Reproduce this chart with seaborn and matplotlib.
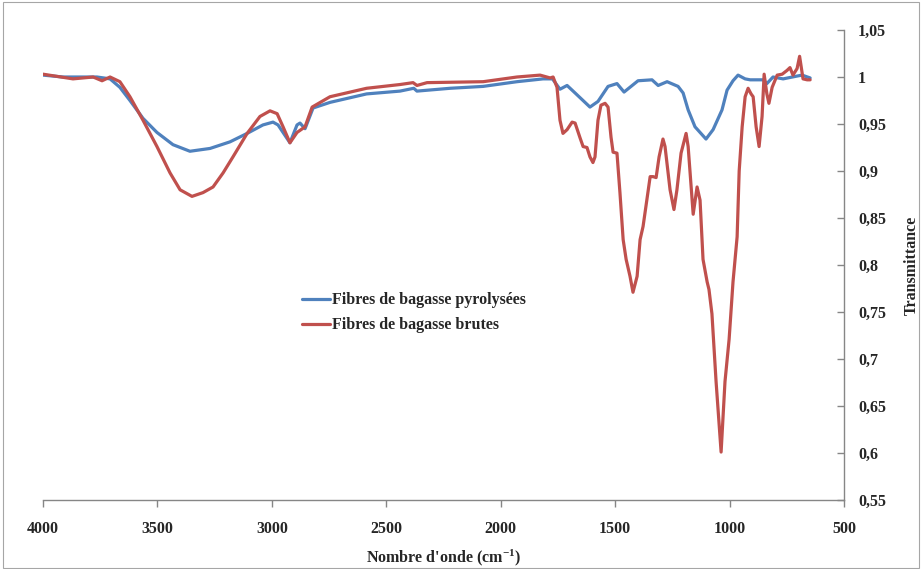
import seaborn as sns
import matplotlib.pyplot as plt
import pandas as pd
from matplotlib.patches import Rectangle
from matplotlib.ticker import FuncFormatter

# --- Data ---
wn_pyro = [4000, 3913, 3764, 3707, 3664, 3620, 3563, 3502, 3432, 3358, 3270, 3183,
           3108, 3039, 2995, 2973, 2921, 2890, 2877, 2855, 2820, 2746, 2586, 2440,
           2380, 2366, 2221, 2077, 1929, 1815, 1774, 1741, 1710, 1675, 1610, 1575,
           1531, 1492, 1461, 1400, 1339, 1312, 1273, 1225, 1203, 1181, 1151, 1103,
           1072, 1033, 1011, 985, 963, 932, 910, 853, 837, 810, 766, 705, 683, 648]
t_pyro = [1.002, 1.0, 1.0, 0.998, 0.989, 0.975, 0.956, 0.941, 0.928, 0.921, 0.924, 0.931,
          0.94, 0.949, 0.952, 0.949, 0.93, 0.949, 0.951, 0.945, 0.967, 0.973, 0.982, 0.985,
          0.988, 0.985, 0.988, 0.99, 0.995, 0.998, 0.998, 0.987, 0.991, 0.983, 0.968, 0.974,
          0.99, 0.993, 0.984, 0.996, 0.997, 0.991, 0.995, 0.99, 0.983, 0.965, 0.947, 0.934,
          0.944, 0.965, 0.986, 0.996, 1.002, 0.998, 0.997, 0.997, 0.993, 1.0, 0.998, 1.001,
          1.002, 0.999]

wn_brut = [4000, 3869, 3781, 3742, 3707, 3664, 3620, 3563, 3502, 3445, 3401, 3349,
           3301, 3257, 3213, 3170, 3108, 3052, 3008, 2977, 2951, 2921, 2890, 2855,
           2824, 2746, 2586, 2440, 2383, 2366, 2322, 2077, 1929, 1828, 1784, 1771,
           1754, 1741, 1728, 1710, 1688, 1675, 1653, 1640, 1623, 1610, 1597, 1588,
           1575, 1562, 1544, 1531, 1518, 1509, 1492, 1479, 1465, 1452, 1435, 1422,
           1404, 1391, 1378, 1361, 1347, 1334, 1321, 1308, 1291, 1282, 1260, 1243,
           1230, 1212, 1190, 1181, 1159, 1142, 1129, 1116, 1098, 1090, 1077, 1059,
           1037, 1020, 1002, 985, 967, 958, 945, 932, 919, 906, 897, 884, 871, 858,
           849, 837, 828, 814, 792, 770, 749, 736, 723, 705, 694, 679, 661, 648]
t_brut = [1.003, 0.998, 1.0, 0.996, 1.0, 0.995, 0.979, 0.954, 0.926, 0.898, 0.88, 0.873,
          0.877, 0.883, 0.898, 0.915, 0.94, 0.958, 0.964, 0.961, 0.947, 0.93, 0.941, 0.947,
          0.968, 0.979, 0.988, 0.992, 0.994, 0.991, 0.994, 0.995, 1.0, 1.002, 0.999, 1.0,
          0.989, 0.954, 0.94, 0.944, 0.952, 0.951, 0.935, 0.926, 0.925, 0.915, 0.909, 0.915,
          0.954, 0.97, 0.972, 0.968, 0.936, 0.92, 0.919, 0.877, 0.827, 0.806, 0.788, 0.771,
          0.788, 0.827, 0.841, 0.87, 0.894, 0.894, 0.893, 0.915, 0.934, 0.926, 0.88, 0.859,
          0.88, 0.919, 0.94, 0.926, 0.854, 0.883, 0.869, 0.806, 0.782, 0.774, 0.748, 0.676,
          0.601, 0.676, 0.721, 0.782, 0.83, 0.9, 0.947, 0.979, 0.988, 0.982, 0.979, 0.947,
          0.926, 0.958, 1.003, 0.982, 0.972, 0.989, 1.002, 1.003, 1.007, 1.01, 1.002, 1.009,
          1.022, 0.998, 0.997, 0.997]

labels = ['Fibres de bagasse pyrolysées', 'Fibres de bagasse brutes']
colors = ['#4F81BD', '#C0504D']
y_ticks = [0.55, 0.6, 0.65, 0.7, 0.75, 0.8, 0.85, 0.9, 0.95, 1.0, 1.05]
x_ticks = [4000, 3500, 3000, 2500, 2000, 1500, 1000, 500]

# --- Style ---
sns.set_theme(style='white')
plt.rcParams.update({
    'font.family': ['Liberation Serif', 'DejaVu Serif'],
    'font.weight': 'bold',
    'mathtext.fontset': 'custom',
    'mathtext.rm': 'Liberation Serif:bold',
    'mathtext.it': 'Liberation Serif:bold',
    'mathtext.bf': 'Liberation Serif:bold',
})
AXIS_GREY = '#868686'

fig = plt.figure(figsize=(9.22, 5.69), dpi=100)
ax = fig.add_axes([43 / 922, 1 - 500 / 569, (844 - 43) / 922, (500 - 30) / 569])

sns.lineplot(x=wn_pyro, y=t_pyro, color=colors[0], lw=2.3, label=labels[0], ax=ax)
sns.lineplot(x=wn_brut, y=t_brut, color=colors[1], lw=2.3, label=labels[1], ax=ax)

ax.set_xlim(4000, 500)
ax.set_ylim(0.55, 1.05)
ax.set_xticks(x_ticks)
ax.set_yticks(y_ticks)
ax.yaxis.tick_right()
ax.yaxis.set_label_position('right')
ax.yaxis.set_major_formatter(FuncFormatter(lambda v, p: f'{round(v, 2):g}'.replace('.', ',')))

for side in ['top', 'left']:
    ax.spines[side].set_visible(False)
for side in ['bottom', 'right']:
    ax.spines[side].set_color(AXIS_GREY)
    ax.spines[side].set_linewidth(1.0)

ax.tick_params(axis='x', direction='out', length=5, width=1, color=AXIS_GREY,
               labelsize=11.5, pad=10, bottom=True)
ax.tick_params(axis='y', direction='in', length=5, width=1, color=AXIS_GREY,
               labelsize=11.5, pad=10, right=True, left=False)
for lab in ax.get_xticklabels() + ax.get_yticklabels():
    lab.set_fontweight('bold')

ax.set_xlabel("Nombre d'onde (cm$^{-1}$)", fontsize=11.5, fontweight='bold', labelpad=8)
ax.set_ylabel('Transmittance', fontsize=11.5, fontweight='bold', labelpad=13)

ax.legend(frameon=False, loc='upper left', bbox_to_anchor=(288 / 922, 1 - 278 / 569),
          bbox_transform=fig.transFigure, prop={'weight': 'bold', 'size': 11.5},
          handlelength=1.7, handletextpad=0.15, labelspacing=0.55)

# Chart-area border like the spreadsheet export
fig.patches.append(Rectangle((0.003, 0.002), 0.994, 0.994, transform=fig.transFigure,
                             fill=False, edgecolor='#A6A6A6', lw=0.8))

plt.savefig('out.png', dpi=100)
plt.close()
